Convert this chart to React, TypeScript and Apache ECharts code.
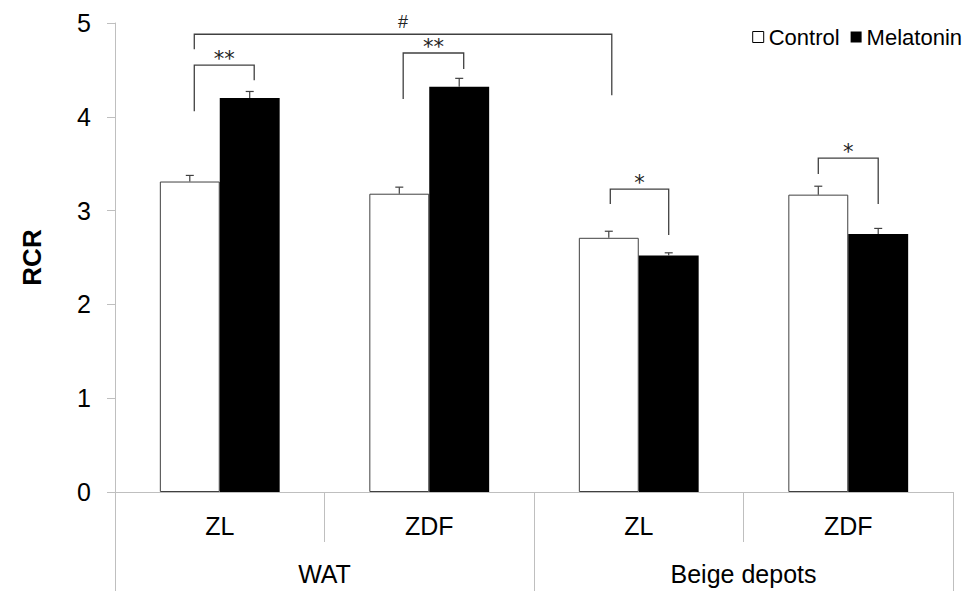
import React, { useEffect, useRef } from "react";
import * as echarts from "echarts";

const subCategories = ["ZL", "ZDF", "ZL", "ZDF"];
const groups = ["WAT", "Beige depots"];
const seriesNames = ["Control", "Melatonin"];
const controlValues = [3.31, 3.18, 2.71, 3.17];
const controlErrors = [0.065, 0.07, 0.07, 0.09];
const melatoninValues = [4.2, 4.32, 2.52, 2.75];
const melatoninErrors = [0.07, 0.09, 0.03, 0.06];
const yTicks = [0, 1, 2, 3, 4, 5];

// brackets: [leftCat, leftSide, leftBottom, rightCat, rightSide, rightBottom, top]
const brackets = [
  [0, -0.85, 4.06, 0, 1.15, 4.39, 4.55],
  [0, -0.85, 4.72, 2, -0.9, 4.23, 4.88],
  [1, -0.87, 4.19, 1, 1.15, 4.51, 4.68],
  [2, -0.95, 3.07, 2, 1.0, 2.74, 3.23],
  [3, -1.0, 3.39, 3, 1.0, 3.07, 3.56],
];
const bracketLabels = ["**", "#", "**", "*", "*"];

const FONT = "'Liberation Sans', Arial, sans-serif";
const AXIS_GRAY = "#bfbfbf";
const BAR_WIDTH_FRAC = 0.286;

export default function App() {
  const ref = useRef<HTMLDivElement>(null);
  useEffect(() => {
    if (!ref.current) return;
    const chart = echarts.init(ref.current, undefined, { renderer: "svg" });

    const errData: number[][] = [];
    controlValues.forEach((v, i) => errData.push([i, v, controlErrors[i], -1]));
    melatoninValues.forEach((v, i) => errData.push([i, v, melatoninErrors[i], 1]));

    const option: any = {
      animation: false,
      backgroundColor: "#fff",
      textStyle: { fontFamily: FONT },
      grid: { left: 115, right: 13, top: 23, bottom: 99, containLabel: false },
      legend: {
        right: 4,
        top: 26,
        padding: 0,
        icon: "rect",
        itemWidth: 11,
        itemHeight: 11,
        itemGap: 11,
        textStyle: { fontSize: 22, color: "#000", fontFamily: FONT },
        data: [
          { name: seriesNames[0], itemStyle: { color: "#fff", borderColor: "#000", borderWidth: 1 } },
          { name: seriesNames[1], itemStyle: { color: "#000" } },
        ],
      },
      xAxis: [
        {
          type: "category",
          data: subCategories,
          position: "bottom",
          boundaryGap: true,
          axisLine: { show: true, lineStyle: { color: AXIS_GRAY, width: 1 } },
          axisTick: { show: true, length: 50, interval: 0, lineStyle: { color: AXIS_GRAY } },
          axisLabel: { fontSize: 25, color: "#000", margin: 21, fontFamily: FONT, interval: 0 },
          splitLine: { show: false },
        },
        {
          type: "category",
          data: groups,
          position: "bottom",
          boundaryGap: true,
          axisLine: { show: true, lineStyle: { color: AXIS_GRAY, width: 1 } },
          axisTick: { show: true, length: 99, interval: 0, lineStyle: { color: AXIS_GRAY } },
          axisLabel: { fontSize: 25, color: "#000", margin: 69, fontFamily: FONT, interval: 0 },
          splitLine: { show: false },
        },
      ],
      yAxis: {
        type: "value",
        min: yTicks[0],
        max: yTicks[yTicks.length - 1],
        interval: 1,
        name: "RCR",
        nameLocation: "middle",
        nameRotate: 90,
        nameGap: 70,
        nameTextStyle: { fontSize: 26, fontWeight: "bold", color: "#000", fontFamily: FONT },
        axisLine: { show: true, lineStyle: { color: AXIS_GRAY, width: 1 } },
        axisTick: { show: true, length: 8, lineStyle: { color: AXIS_GRAY } },
        axisLabel: { fontSize: 25, color: "#000", margin: 24, fontFamily: FONT },
        splitLine: { show: false },
      },
      series: [
        {
          name: seriesNames[0],
          type: "bar",
          xAxisIndex: 0,
          data: controlValues,
          barWidth: (BAR_WIDTH_FRAC * 100).toFixed(1) + "%",
          barGap: "0%",
          itemStyle: { color: "#fff", borderColor: "#404040", borderWidth: 1 },
        },
        {
          name: seriesNames[1],
          type: "bar",
          xAxisIndex: 0,
          data: melatoninValues,
          barWidth: (BAR_WIDTH_FRAC * 100).toFixed(1) + "%",
          barGap: "0%",
          itemStyle: { color: "#000" },
        },
        {
          type: "custom",
          xAxisIndex: 0,
          silent: true,
          z: 5,
          data: errData,
          encode: { x: 0, y: 1 },
          renderItem: (params: any, api: any) => {
            const cat = api.value(0);
            const v = api.value(1);
            const e = api.value(2);
            const side = api.value(3);
            const band = api.size([1, 0])[0];
            const bw = band * BAR_WIDTH_FRAC;
            const base = api.coord([cat, v]);
            const top = api.coord([cat, v + e]);
            const x = base[0] + (side * bw) / 2;
            const style = { stroke: "#404040", lineWidth: 1.2 };
            return {
              type: "group",
              children: [
                { type: "line", shape: { x1: x, y1: base[1], x2: x, y2: top[1] }, style },
                { type: "line", shape: { x1: x - 4, y1: top[1], x2: x + 4, y2: top[1] }, style },
              ],
            };
          },
        },
        {
          type: "custom",
          xAxisIndex: 0,
          silent: true,
          z: 6,
          data: brackets,
          encode: { x: 0, y: 6 },
          renderItem: (params: any, api: any) => {
            const band = api.size([1, 0])[0];
            const bw = band * BAR_WIDTH_FRAC;
            const lc = api.value(0), ls = api.value(1), lb = api.value(2);
            const rc = api.value(3), rs = api.value(4), rb = api.value(5);
            const t = api.value(6);
            const pL = api.coord([lc, lb]);
            const pR = api.coord([rc, rb]);
            const pT = api.coord([lc, t]);
            const xl = pL[0] + (ls * bw) / 2;
            const xr = pR[0] + (rs * bw) / 2;
            const label = bracketLabels[params.dataIndex];
            const isHash = label === "#";
            return {
              type: "group",
              children: [
                {
                  type: "polyline",
                  shape: { points: [[xl, pL[1]], [xl, pT[1]], [xr, pT[1]], [xr, pR[1]]] },
                  style: { stroke: "#404040", lineWidth: 1.3, fill: "none" },
                },
                {
                  type: "text",
                  x: (xl + xr) / 2,
                  y: pT[1] - (isHash ? 12 : 6),
                  style: {
                    text: label,
                    fontSize: isHash ? 18 : 21,
                    fontFamily: isHash ? FONT : "'DejaVu Sans', sans-serif",
                    fill: "#222",
                    align: "center",
                    verticalAlign: "middle",
                  },
                },
              ],
            };
          },
        },
      ],
    };
    chart.setOption(option);
    return () => chart.dispose();
  }, []);
  return (
    <div
      ref={ref}
      style={{ position: "fixed", left: 0, top: 0, width: 966, height: 591, background: "#fff" }}
    />
  );
}
